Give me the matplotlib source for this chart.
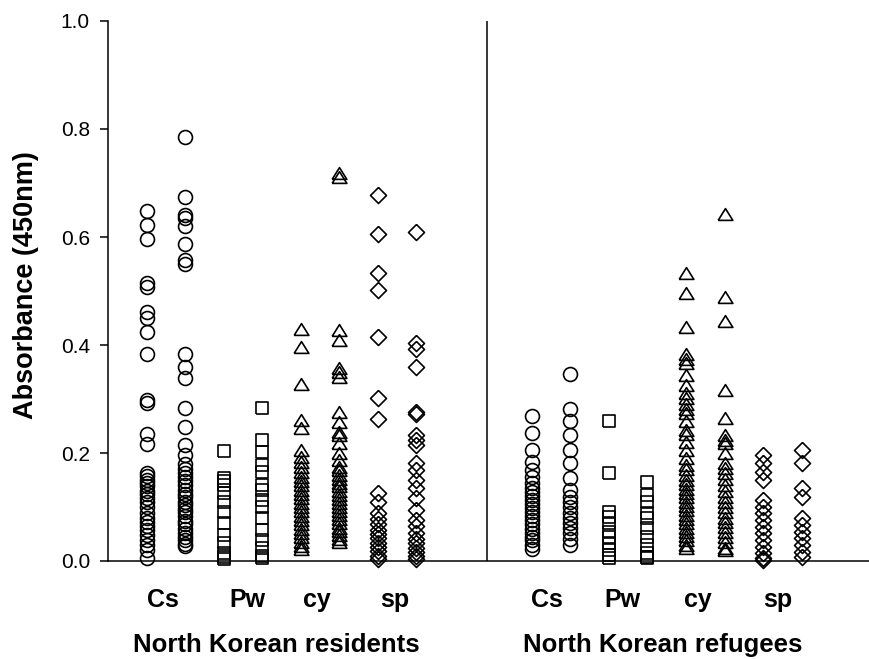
import matplotlib
matplotlib.use("Agg")
import matplotlib.pyplot as plt
import matplotlib.transforms as mtransforms

plt.rcParams['font.family'] = ['Liberation Sans', 'DejaVu Sans']

# absorbance values, one list per column
# North Korean residents
res_cs1 = [0.648, 0.622, 0.597, 0.515, 0.508, 0.462, 0.450, 0.424, 0.384, 0.298, 0.292,
           0.236, 0.216, 0.163, 0.157, 0.150, 0.145, 0.138, 0.130, 0.124, 0.116, 0.109,
           0.100, 0.089, 0.080, 0.072, 0.064, 0.057, 0.048, 0.039, 0.030, 0.020, 0.006]
res_cs2 = [0.785, 0.674, 0.641, 0.635, 0.620, 0.587, 0.557, 0.550, 0.383, 0.360, 0.339,
           0.283, 0.248, 0.215, 0.196, 0.180, 0.170, 0.163, 0.155, 0.148, 0.140, 0.132,
           0.125, 0.118, 0.110, 0.103, 0.097, 0.090, 0.083, 0.075, 0.068, 0.060, 0.052,
           0.045, 0.038, 0.032, 0.028]
res_pw1 = [0.204, 0.153, 0.148, 0.140, 0.126, 0.109, 0.090, 0.070, 0.048, 0.033, 0.015,
           0.007, 0.004]
res_pw2 = [0.283, 0.224, 0.202, 0.178, 0.165, 0.140, 0.131, 0.113, 0.100, 0.080, 0.057,
           0.039, 0.024, 0.009, 0.005]
res_cy1 = [0.430, 0.397, 0.328, 0.261, 0.246, 0.206, 0.193, 0.183, 0.174, 0.165, 0.156,
           0.148, 0.140, 0.132, 0.124, 0.116, 0.108, 0.100, 0.092, 0.084, 0.076, 0.068,
           0.060, 0.052, 0.044, 0.036, 0.028, 0.022]
res_cy2 = [0.718, 0.711, 0.428, 0.410, 0.357, 0.350, 0.341, 0.276, 0.257, 0.239, 0.233,
           0.218, 0.200, 0.187, 0.174, 0.168, 0.160, 0.152, 0.145, 0.138, 0.130, 0.122,
           0.115, 0.108, 0.100, 0.092, 0.085, 0.078, 0.070, 0.062, 0.055, 0.048, 0.040,
           0.035]
res_sp1 = [0.678, 0.605, 0.533, 0.502, 0.415, 0.302, 0.263, 0.126, 0.110, 0.089, 0.078,
           0.068, 0.058, 0.050, 0.042, 0.034, 0.026, 0.018, 0.010, 0.004]
res_sp2 = [0.609, 0.403, 0.392, 0.359, 0.276, 0.272, 0.233, 0.224, 0.215, 0.181, 0.168,
           0.150, 0.135, 0.117, 0.094, 0.076, 0.064, 0.052, 0.040, 0.033, 0.024, 0.017,
           0.009, 0.004]

# North Korean refugees
ref_cs1 = [0.268, 0.237, 0.206, 0.184, 0.168, 0.155, 0.145, 0.135, 0.128, 0.120, 0.113,
           0.105, 0.098, 0.091, 0.083, 0.076, 0.068, 0.060, 0.052, 0.045, 0.038, 0.030,
           0.022]
ref_cs2 = [0.346, 0.281, 0.260, 0.233, 0.206, 0.181, 0.153, 0.131, 0.119, 0.109, 0.100,
           0.089, 0.080, 0.070, 0.061, 0.052, 0.040, 0.030]
ref_pw1 = [0.260, 0.163, 0.091, 0.082, 0.070, 0.054, 0.045, 0.033, 0.020, 0.011, 0.005]
ref_pw2 = [0.146, 0.122, 0.110, 0.089, 0.080, 0.061, 0.045, 0.030, 0.015, 0.008, 0.005]
ref_cy1 = [0.534, 0.497, 0.434, 0.383, 0.375, 0.367, 0.345, 0.326, 0.311, 0.302, 0.290,
           0.282, 0.274, 0.260, 0.243, 0.235, 0.220, 0.206, 0.190, 0.178, 0.170, 0.160,
           0.150, 0.142, 0.134, 0.126, 0.118, 0.110, 0.102, 0.094, 0.086, 0.078, 0.070,
           0.062, 0.054, 0.046, 0.038, 0.030, 0.024]
ref_cy2 = [0.643, 0.489, 0.444, 0.317, 0.265, 0.233, 0.224, 0.218, 0.200, 0.181, 0.172,
           0.163, 0.152, 0.140, 0.130, 0.119, 0.110, 0.100, 0.090, 0.080, 0.072, 0.063,
           0.054, 0.045, 0.035, 0.024, 0.020]
ref_sp1 = [0.196, 0.181, 0.165, 0.150, 0.113, 0.100, 0.089, 0.076, 0.063, 0.052, 0.039,
           0.026, 0.015, 0.005, 0.001]
ref_sp2 = [0.206, 0.181, 0.135, 0.119, 0.080, 0.067, 0.054, 0.043, 0.030, 0.017, 0.008]

categories = ['Cs', 'Pw', 'cy', 'sp']
groups = ['North Korean residents', 'North Korean refugees']
yticks = [0.0, 0.2, 0.4, 0.6, 0.8, 1.0]

residents = [res_cs1, res_cs2, res_pw1, res_pw2, res_cy1, res_cy2, res_sp1, res_sp2]
refugees = [ref_cs1, ref_cs2, ref_pw1, ref_pw2, ref_cy1, ref_cy2, ref_sp1, ref_sp2]

# marker shapes (unfilled), one per category
tri = [(-1, -0.8), (1, -0.8), (0, 0.8), (-1, -0.8)]
sq = [(-1, -1), (1, -1), (1, 1), (-1, 1), (-1, -1)]
dia = [(0, 1), (1, 0), (0, -1), (-1, 0), (0, 1)]
markers = [('o', 10.0), (sq, 9.2), (tri, 10.6), (dia, 11.5)]

fig = plt.figure(figsize=(8.69, 6.59), dpi=100)
ax = fig.add_axes([108/869, 1 - 561/659, 1 - 108/869, 540/659])

for g, cols in enumerate([residents, refugees]):
    x0 = 1 + 10*g
    for i, vals in enumerate(cols):
        m, ms = markers[i // 2]
        ax.plot([x0 + i]*len(vals), vals, linestyle='none', marker=m, markersize=ms,
                mfc='none', mec='black', mew=1.2, clip_on=False)

ax.axvline(9.83, color='black', lw=1.1)

ax.set_xlim(0, 19.75)
ax.set_ylim(0, 1.0)
ax.set_yticks(yticks)
ax.set_yticklabels(['%.1f' % t for t in yticks])
ax.set_xticks([])
ax.tick_params(axis='y', direction='out', length=6, width=1.1, pad=7, labelsize=15)
for s in ['top', 'right']:
    ax.spines[s].set_visible(False)
for s in ['left', 'bottom']:
    ax.spines[s].set_linewidth(1.1)

trans = mtransforms.blended_transform_factory(ax.transData, ax.transAxes)
cat_x = [1.42, 3.62, 5.42, 7.44, 11.39, 13.36, 15.31, 17.39]
for k, cx in enumerate(cat_x):
    ax.text(cx, -0.072, categories[k % 4], transform=trans, ha='center', va='center',
            fontsize=18, fontweight='bold')

grp_x = [4.38, 14.4]
for k, gx in enumerate(grp_x):
    ax.text(gx, -0.156, groups[k], transform=trans, ha='center', va='center',
            fontsize=18.5, fontweight='bold')

fig.text(26/869, 1 - 285/659, 'Absorbance (450nm)', rotation=90, ha='center', va='center',
         fontsize=19.5, fontweight='bold')

fig.savefig('out.png', dpi=100)
